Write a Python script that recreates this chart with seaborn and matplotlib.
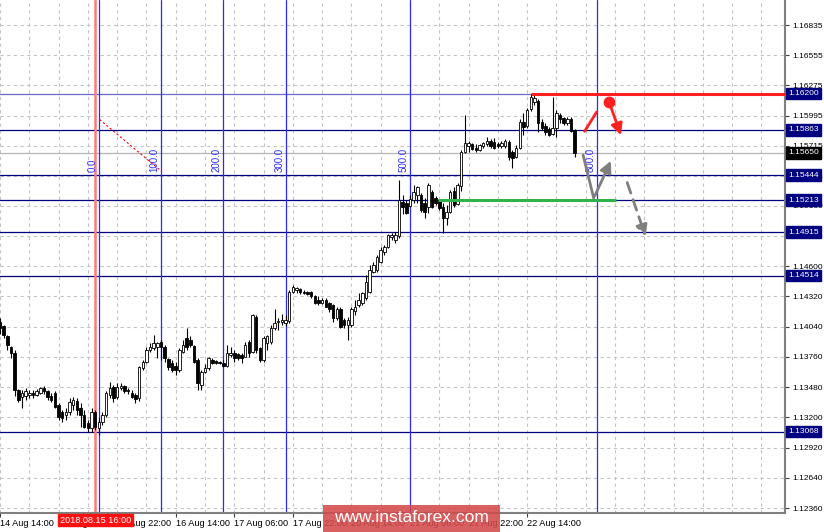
import numpy as np
import pandas as pd
import matplotlib
matplotlib.use("Agg")
import matplotlib.pyplot as plt
import matplotlib.transforms as mtransforms
from matplotlib.patches import FancyArrowPatch, Rectangle
import seaborn as sns

# ---------------- data (EURUSD H1) ----------------
opens = [1.1408,1.1405,1.1395,1.1385,1.1380,1.1345,1.1339,1.1340,1.1341,1.1343,
         1.1341,1.1343,1.1347,1.1344,1.1340,1.1343,1.1331,1.1325,1.1322,1.1325,
         1.1331,1.1335,1.1329,1.1322,1.1315,1.1310,1.1325,1.1310,1.1316,1.1322,
         1.1341,1.1348,1.1339,1.1347,1.1349,1.1345,1.1343,1.1341,1.1338,1.1366,
         1.1371,1.1382,1.1384,1.1385,1.1390,1.1385,1.1374,1.1370,1.1368,1.1364,
         1.1381,1.1394,1.1392,1.1386,1.1373,1.1350,1.1362,1.1366,1.1373,1.1372,
         1.1371,1.1370,1.1368,1.1378,1.1380,1.1379,1.1378,1.1376,1.1390,1.1381,
         1.1413,1.1384,1.1373,1.1389,1.1390,1.1403,1.1408,1.1408,1.1407,1.1409,
         1.1436,1.1438,1.1439,1.1436,1.1436,1.1436,1.1432,1.1429,1.1426,1.1429,
         1.1426,1.1424,1.1412,1.1420,1.1410,1.1406,1.1406,1.1419,1.1424,1.1426,
         1.1431,1.1436,1.1455,1.1457,1.1464,1.1473,1.1478,1.1487,1.1484,1.1488,
         1.1520,1.1519,1.1516,1.1521,1.1526,1.1526,1.1519,1.1515,1.1529,1.1523,
         1.1521,1.1515,1.1505,1.1510,1.1530,1.1518,1.1534,1.1566,1.1571,1.1573,
         1.1570,1.1568,1.1571,1.1573,1.1576,1.1575,1.1573,1.1571,1.1571,1.1575,
         1.1566,1.1561,1.1570,1.1594,1.1590,1.1606,1.1612,1.1613,1.1594,1.1590,
         1.1587,1.1583,1.1588,1.1600,1.1597,1.1593,1.1596,1.1586]
highs = [1.1412,1.1406,1.1396,1.1386,1.1382,1.1346,1.1345,1.1347,1.1345,1.1345,
         1.1346,1.1348,1.1349,1.1345,1.1343,1.1344,1.1333,1.1327,1.1329,1.1338,
         1.1339,1.1338,1.1333,1.1327,1.1318,1.1329,1.1327,1.1319,1.1325,1.1344,
         1.1353,1.1350,1.1352,1.1352,1.1350,1.1347,1.1345,1.1343,1.1368,1.1373,
         1.1385,1.1389,1.1396,1.1390,1.1392,1.1387,1.1375,1.1373,1.1371,1.1384,
         1.1392,1.1403,1.1395,1.1387,1.1375,1.1364,1.1369,1.1376,1.1375,1.1373,
         1.1372,1.1373,1.1387,1.1385,1.1382,1.1380,1.1380,1.1390,1.1392,1.1416,
         1.1415,1.1385,1.1395,1.1396,1.1406,1.1420,1.1412,1.1416,1.1415,1.1438,
         1.1443,1.1441,1.1440,1.1438,1.1437,1.1437,1.1433,1.1432,1.1431,1.1431,
         1.1427,1.1425,1.1422,1.1422,1.1412,1.1413,1.1422,1.1429,1.1435,1.1436,
         1.1452,1.1461,1.1464,1.1470,1.1478,1.1480,1.1490,1.1491,1.1492,1.1540,
         1.1526,1.1521,1.1526,1.1535,1.1534,1.1528,1.1523,1.1537,1.1531,1.1525,
         1.1522,1.1519,1.1517,1.1531,1.1533,1.1537,1.1568,1.1600,1.1576,1.1574,
         1.1573,1.1573,1.1575,1.1580,1.1578,1.1579,1.1575,1.1576,1.1578,1.1577,
         1.1568,1.1572,1.1596,1.1602,1.1607,1.1620,1.1619,1.1615,1.1596,1.1593,
         1.1589,1.1617,1.1605,1.1602,1.1598,1.1598,1.1598,1.1587]
lows = [1.1397,1.1394,1.1382,1.1375,1.1340,1.1334,1.1329,1.1336,1.1338,1.1338,
        1.1340,1.1342,1.1342,1.1336,1.1334,1.1329,1.1318,1.1316,1.1318,1.1322,
        1.1327,1.1322,1.1311,1.1310,1.1306,1.1306,1.1308,1.1304,1.1313,1.1320,
        1.1338,1.1334,1.1337,1.1345,1.1343,1.1342,1.1338,1.1333,1.1335,1.1364,
        1.1370,1.1381,1.1382,1.1375,1.1373,1.1371,1.1364,1.1362,1.1359,1.1362,
        1.1380,1.1382,1.1385,1.1370,1.1345,1.1345,1.1361,1.1364,1.1369,1.1369,
        1.1369,1.1367,1.1367,1.1376,1.1371,1.1373,1.1370,1.1376,1.1376,1.1380,
        1.1380,1.1371,1.1371,1.1382,1.1388,1.1401,1.1401,1.1406,1.1405,1.1407,
        1.1435,1.1435,1.1434,1.1434,1.1433,1.1431,1.1425,1.1424,1.1425,1.1422,
        1.1418,1.1408,1.1410,1.1403,1.1403,1.1392,1.1404,1.1415,1.1422,1.1424,
        1.1429,1.1435,1.1454,1.1455,1.1463,1.1470,1.1477,1.1484,1.1482,1.1486,
        1.1508,1.1508,1.1515,1.1519,1.1519,1.1510,1.1505,1.1509,1.1514,1.1517,
        1.1512,1.1491,1.1498,1.1509,1.1515,1.1517,1.1530,1.1565,1.1566,1.1568,
        1.1566,1.1567,1.1570,1.1571,1.1570,1.1569,1.1570,1.1570,1.1570,1.1558,
        1.1551,1.1560,1.1569,1.1582,1.1588,1.1604,1.1609,1.1584,1.1586,1.1582,
        1.1581,1.1582,1.1580,1.1593,1.1591,1.1591,1.1584,1.1561]
closes = [1.1403,1.1396,1.1387,1.1380,1.1345,1.1336,1.1343,1.1344,1.1343,1.1341,
          1.1344,1.1347,1.1344,1.1339,1.1336,1.1330,1.1320,1.1319,1.1325,1.1334,
          1.1336,1.1327,1.1322,1.1311,1.1310,1.1325,1.1311,1.1316,1.1322,1.1343,
          1.1347,1.1338,1.1348,1.1349,1.1344,1.1344,1.1339,1.1337,1.1367,1.1371,
          1.1382,1.1385,1.1389,1.1389,1.1385,1.1375,1.1367,1.1364,1.1364,1.1382,
          1.1387,1.1385,1.1387,1.1371,1.1352,1.1362,1.1366,1.1375,1.1370,1.1370,
          1.1370,1.1368,1.1380,1.1380,1.1375,1.1375,1.1375,1.1387,1.1380,1.1415,
          1.1382,1.1373,1.1394,1.1395,1.1403,1.1407,1.1409,1.1410,1.1410,1.1436,
          1.1441,1.1440,1.1436,1.1435,1.1434,1.1432,1.1426,1.1426,1.1429,1.1422,
          1.1420,1.1412,1.1420,1.1404,1.1406,1.1410,1.1420,1.1422,1.1429,1.1435,
          1.1445,1.1457,1.1461,1.1469,1.1475,1.1478,1.1489,1.1489,1.1489,1.1521,
          1.1515,1.1509,1.1522,1.1529,1.1533,1.1512,1.1510,1.1535,1.1515,1.1519,
          1.1514,1.1505,1.1510,1.1529,1.1517,1.1535,1.1566,1.1574,1.1574,1.1569,
          1.1568,1.1572,1.1574,1.1576,1.1571,1.1570,1.1571,1.1574,1.1576,1.1561,
          1.1560,1.1570,1.1594,1.1589,1.1605,1.1617,1.1616,1.1593,1.1588,1.1584,
          1.1582,1.1588,1.1602,1.1596,1.1593,1.1596,1.1585,1.1565]

time_label_bars = [0, 16, 32, 48, 64, 80, 96, 112, 128, 144]
time_labels = ["14 Aug 14:00", "15 Aug 06:00", "15 Aug 22:00", "16 Aug 14:00",
               "17 Aug 06:00", "17 Aug 22:00", "20 Aug 14:00", "21 Aug 06:00",
               "21 Aug 22:00", "22 Aug 14:00"]
price_ticks = ["1.12360", "1.12640", "1.12920", "1.13200", "1.13480", "1.13760",
               "1.14040", "1.14320", "1.14600", "1.14880", "1.15160", "1.15435",
               "1.15715", "1.15995", "1.16275", "1.16555", "1.16835"]
level_prices = [1.16200, 1.15863, 1.15444, 1.15213, 1.14915, 1.14514, 1.13068]
bid_price = 1.15650
separator_bar = 26
separator_label = "2018.08.15 16:00"
fib_base_bar = 27
fib_step = 17
fib_levels = [0, 1, 2, 3, 5, 8]
fib_labels = ["0.0", "100.0", "200.0", "300.0", "500.0", "800.0"]
resistance = (145, 1.16200)          # start bar, price
support = (119.6, 168.4, 1.15213)    # start bar, end bar, price
fib_anchor_line = [(27.2, 1.1596), (44.1, 1.1548)]
red_path = [(159.7, 1.1585), (163.0, 1.1603)]
red_dot = (166.4, 1.1612)
red_arrow_end = (169.9, 1.1579)
gray_path = [(159.3, 1.1563), (162.2, 1.1523)]
gray_arrow_end = (167.2, 1.1560)
gray_dash = [(171.1, 1.1540), (176.6, 1.1485)]

# ---------------- figure ----------------
sns.set_theme(style="white")
plt.rcParams["font.family"] = ["Liberation Sans", "DejaVu Sans"]

df = pd.DataFrame({"open": opens, "high": highs, "low": lows, "close": closes})
df["bar"] = np.arange(len(df))
df["bull"] = df["close"] >= df["open"]

fig = plt.figure(figsize=(8.24, 5.32), dpi=100)
fig.patch.set_facecolor("white")
ax = fig.add_axes([0.0, 1 - 513 / 532, 785 / 824, 513 / 532])
ax.set_facecolor("white")

xmin, xmax = 0.19, 214.45
ymin, ymax = 1.12314, 1.17067
ax.set_xlim(xmin, xmax)
ax.set_ylim(ymin, ymax)

tick_vals = [float(t) for t in price_ticks]
grid_kw = dict(color="#c4c4c4", lw=0.8, ls=(0, (3, 3)), zorder=0)
for v in tick_vals:
    ax.axhline(v, **grid_kw)
for b in range(0, 216, 8):
    ax.axvline(b, **grid_kw)

# level lines
ax.axhline(bid_price, color="#b4b4b4", lw=0.9, zorder=1)
for p in level_prices:
    col = "#6a6ac8" if p == level_prices[0] else "#000080"
    ax.axhline(p, color=col, lw=0.9, zorder=1)

# separator + fib time zones
ax.axvline(separator_bar, color="#ff7a7a", lw=1.8, zorder=1)
for lv, lab in zip(fib_levels, fib_labels):
    b = fib_base_bar + fib_step * lv
    ax.axvline(b, color="#2a2aff", lw=0.9, zorder=1)
    ax.text(b - 0.35, 1.1547, lab, rotation=90, ha="right", va="bottom",
            color="#3030ff", fontsize=7, zorder=2)
sns.lineplot(x=[p[0] for p in fib_anchor_line], y=[p[1] for p in fib_anchor_line],
             ax=ax, color="red", lw=0.8, ls=(0, (2, 2)), zorder=2)

# candles
body_w = 0.68
ax.vlines(df["bar"], df["low"], df["high"], color="black", lw=0.8, zorder=3)
bottoms = np.minimum(df["open"], df["close"])
heights = np.maximum((df["close"] - df["open"]).abs(), 0.00003)
face = np.where(df["bull"], "white", "black")
ax.bar(df["bar"], heights, bottom=bottoms, width=body_w, color=face,
       edgecolor="black", linewidth=0.6, zorder=4)

# resistance / support
ax.plot([resistance[0], xmax], [resistance[1]] * 2, color="#ff2020", lw=2.2,
        solid_capstyle="butt", zorder=5)
ax.plot([support[0], support[1]], [support[2]] * 2, color="#2fb34a", lw=2.2,
        solid_capstyle="butt", zorder=5)

# forecast drawings
ax.plot(*zip(*red_path), color="#ff2020", lw=2.0, zorder=6)
ax.plot([red_dot[0]], [red_dot[1]], "o", color="#ff2020", ms=7.5, zorder=6)
ax.add_patch(FancyArrowPatch(red_dot, red_arrow_end, arrowstyle="-|>",
                             mutation_scale=17, color="#ff2020", lw=2.0, zorder=6))
ax.plot(*zip(*gray_path), color="#7f7f7f", lw=2.0, zorder=6)
ax.add_patch(FancyArrowPatch(gray_path[-1], gray_arrow_end, arrowstyle="-|>",
                             mutation_scale=17, color="#7f7f7f", lw=2.0, zorder=6))
ax.add_patch(FancyArrowPatch(gray_dash[0], gray_dash[1], arrowstyle="-|>",
                             mutation_scale=17, color="#7f7f7f", lw=2.0,
                             linestyle=(0, (4, 2.5)), zorder=6))

# axes styling
sns.despine(ax=ax, left=True, top=True, right=False, bottom=False)
for s in ("right", "bottom"):
    ax.spines[s].set_color("#808080")
    ax.spines[s].set_linewidth(1.5)
ax.yaxis.tick_right()
ax.set_yticks(tick_vals)
ax.set_yticklabels(price_ticks)
ax.set_xticks(time_label_bars)
ax.set_xticklabels(time_labels, ha="left")
ax.tick_params(axis="y", which="both", right=True, left=False, length=3, width=0.8,
               color="#404040", labelsize=6.0, pad=2, labelcolor="black")
ax.tick_params(axis="x", which="both", bottom=True, length=3, width=0.8,
               color="#404040", labelsize=6.6, pad=1.5, labelcolor="black")
ax.grid(False)

# right price labels
tr = mtransforms.blended_transform_factory(ax.transAxes, ax.transData)
for p in level_prices:
    ax.text(1.004, p, f"{p:.5f}", transform=tr, ha="left", va="center", fontsize=6.0,
            color="white", clip_on=False, zorder=10,
            bbox=dict(boxstyle="square,pad=0.28", fc="#000080", ec="#000080"))
ax.text(1.004, bid_price, f"{bid_price:.5f}", transform=tr, ha="left", va="center",
        fontsize=6.0, color="white", clip_on=False, zorder=10,
        bbox=dict(boxstyle="square,pad=0.28", fc="black", ec="black"))

# separator date label
tb = mtransforms.blended_transform_factory(ax.transData, ax.transAxes)
ax.text(separator_bar, -0.005, separator_label, transform=tb, ha="center", va="top",
        fontsize=6.6, color="white", clip_on=False, zorder=10,
        bbox=dict(boxstyle="square,pad=0.2", fc="#ff1010", ec="#ff1010"))

# watermark
fig.patches.append(Rectangle((323 / 824, 0), 177 / 824, 27 / 532, transform=fig.transFigure,
                             facecolor="#d44a4a", alpha=0.88, edgecolor="none", zorder=20))
fig.text(411.5 / 824, 14 / 532, "www.instaforex.com", ha="center", va="center",
         color="white", fontsize=12.5, zorder=21)

fig.savefig("out.png", dpi=100)
